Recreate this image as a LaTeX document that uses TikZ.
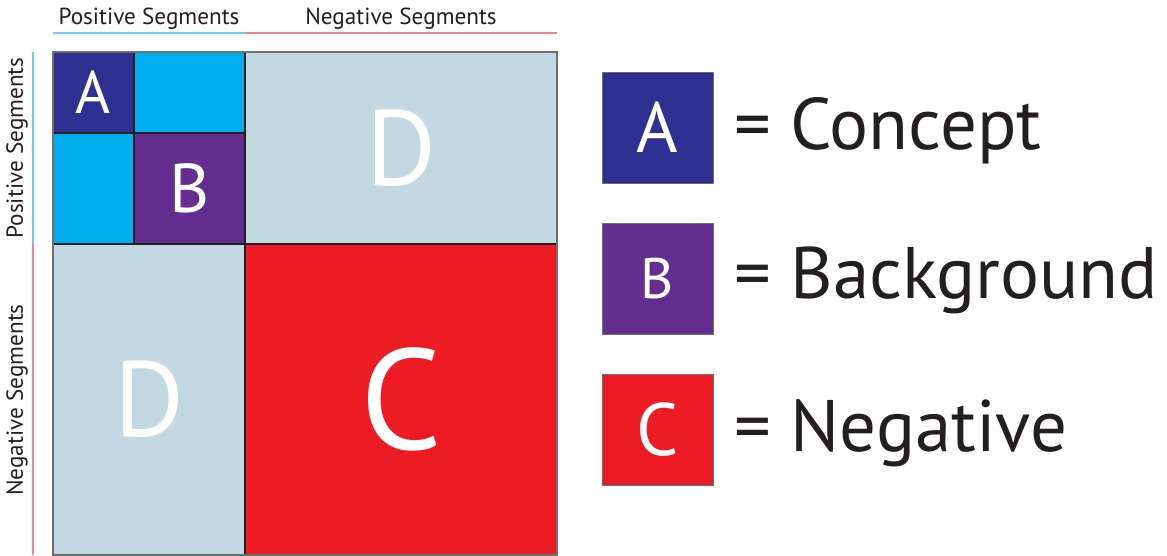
\documentclass[tikz,border=0pt]{standalone}
\usepackage{fontspec}
\setmainfont{PT Sans}
\definecolor{conceptblue}{HTML}{2E3192}
\definecolor{bgpurple}{HTML}{662D91}
\definecolor{poscyan}{HTML}{00AEEF}
\definecolor{dpale}{HTML}{C2D9E4}
\definecolor{negred}{HTML}{ED1C24}
\definecolor{gridline}{HTML}{231F20}
\definecolor{framegray}{HTML}{6D6E71}
\definecolor{posline}{HTML}{6DCFF6}
\definecolor{negline}{HTML}{F0868C}
\definecolor{inktext}{HTML}{231F20}
\newcommand{\fs}[1]{\fontsize{#1}{#1}\selectfont}
\begin{document}
\begin{tikzpicture}[x=1pt,y=-1pt,
  cell/.style={draw=gridline, line width=1.1pt, inner sep=0pt, outer sep=0pt,
    text=white, anchor=north west, minimum width=#1},
  cell/.default=81pt,
  legbox/.style={draw=framegray, line width=0.8pt, inner sep=0pt, outer sep=0pt,
    text=white, anchor=north west, minimum width=111pt, minimum height=111pt},
  seglabel/.style={text=inktext, inner sep=0pt, font=\fs{23.2}, anchor=base},
  legtext/.style={text=inktext, inner sep=0pt, font=\fs{73}, anchor=base west},
  posbar/.style={draw=posline, line width=2pt},
  negbar/.style={draw=negline, line width=2pt}]
\useasboundingbox (0,0) rectangle (1167,556);

% matrix cells
\node[cell=81pt, minimum height=81pt, fill=conceptblue, font=\fs{60}] (a) at (53,52) {A};
\node[cell=111pt, minimum height=81pt, fill=poscyan] (pp1) at (134,52) {};
\node[cell=81pt, minimum height=111pt, fill=poscyan] (pp2) at (53,133) {};
\node[cell=111pt, minimum height=111pt, fill=bgpurple, font=\fs{69}] (b) at (134,133) {B};
\node[cell=312pt, minimum height=192pt, fill=dpale, font=\fs{107}] (d1) at (245,52) {D};
\node[cell=192pt, minimum height=311pt, fill=dpale, font=\fs{107}] (d2) at (53,244) {D};
\node[cell=312pt, minimum height=311pt, fill=negred, font=\fs{143}] (c) at (245,244) {C};
\draw[draw=framegray, line width=2pt] (a.north west) rectangle (c.south east);

% segment labels and their bars
\coordinate (h0) at (53,33);
\coordinate (h1) at (245,33);
\coordinate (h2) at (557,33);
\coordinate (v0) at (33,52);
\coordinate (v1) at (33,244);
\coordinate (v2) at (33,555);
\draw[posbar] (h0) -- (h1);
\draw[negbar] (h1) -- (h2);
\draw[posbar] (v0) -- (v1);
\draw[negbar] (v1) -- (v2);
\node[seglabel] (tpos) at (149,25) {Positive Segments};
\node[seglabel] (tneg) at (401,25) {Negative Segments};
\node[seglabel, rotate=90] (lpos) at (23,148) {Positive Segments};
\node[seglabel, rotate=90] (lneg) at (23,400) {Negative Segments};

% legend
\node[legbox, fill=conceptblue, font=\fs{71}] (la) at (602,72) {A};
\node[legbox, fill=bgpurple, font=\fs{57}] (lb) at (602,223) {B};
\node[legbox, fill=negred, font=\fs{74}] (lc) at (602,374) {C};
\node[legtext] (ta) at (734,150) {= Concept};
\node[legtext] (tb) at (734,298) {= Background};
\node[legtext] (tc) at (734,451) {= Negative};
\end{tikzpicture}
\end{document}
